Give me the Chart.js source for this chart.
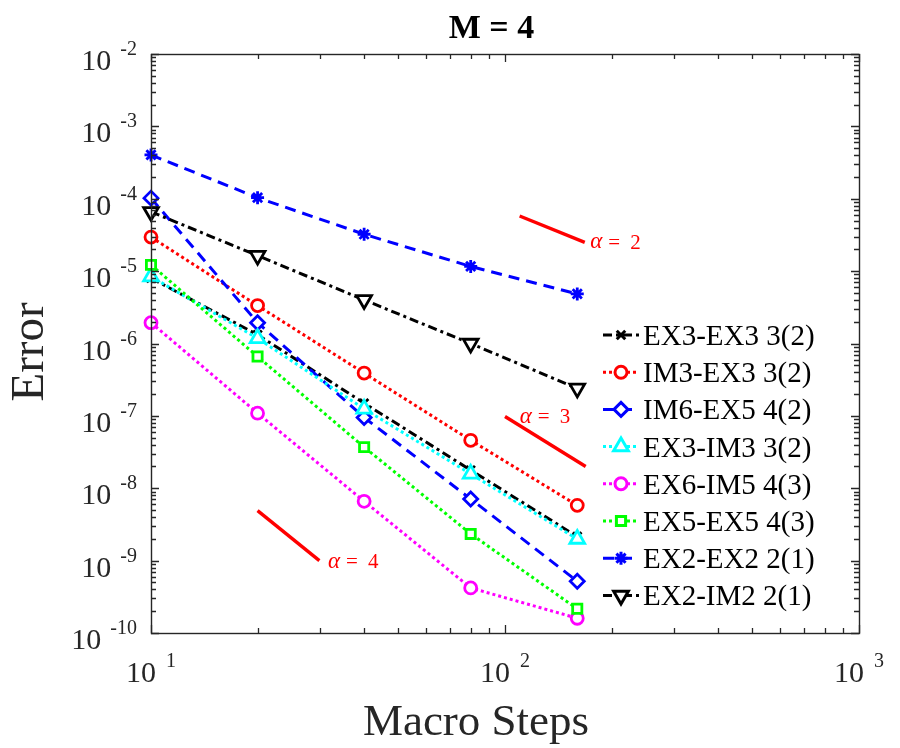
<!DOCTYPE html>
<html>
<head>
<meta charset="utf-8">
<script src="https://cdn.jsdelivr.net/npm/chart.js@4.4.1/dist/chart.umd.min.js"></script>
<style>
html,body{margin:0;padding:0;background:#fff;}
canvas{display:block;}
</style>
</head>
<body>
<canvas id="c" width="900" height="748"></canvas>
<script>
// ---- data ----
const steps = [10, 20, 40, 80, 160];
const ex3ex3 = [8.0e-6, 1.32e-6, 1.5e-7, 1.78e-8, 2.15e-9];
const im3ex3 = [2.95e-5, 3.34e-6, 3.9e-7, 4.6e-8, 5.8e-9];
const im6ex5 = [1.02e-4, 1.94e-6, 9.5e-8, 7.1e-9, 5.2e-10];
const ex3im3 = [8.4e-6, 1.18e-6, 1.25e-7, 1.58e-8, 1.99e-9];
const ex6im5 = [1.94e-6, 1.09e-7, 6.6e-9, 4.2e-10, 1.6e-10];
const ex5ex5 = [1.22e-5, 6.6e-7, 3.7e-8, 2.34e-9, 2.16e-10];
const ex2ex2 = [4.03e-4, 1.035e-4, 3.23e-5, 1.16e-5, 4.84e-6];
const ex2im2 = [6.6e-5, 1.64e-5, 4.0e-6, 1.0e-6, 2.4e-7];

const seriesLabels = ['EX3-EX3 3(2)', 'IM3-EX3 3(2)', 'IM6-EX5 4(2)', 'EX3-IM3 3(2)',
                      'EX6-IM5 4(3)', 'EX5-EX5 4(3)', 'EX2-EX2 2(1)', 'EX2-IM2 2(1)'];

// reference slope segments
const slope2X = [110, 168];  const slope2Y = [5.78e-5, 2.5e-5];
const slope3X = [100, 169];  const slope3Y = [9.8e-8, 2.0e-8];
const slope4X = [20, 29.9];  const slope4Y = [4.9e-9, 1.0e-9];
const slopeLabels = ['2', '3', '4'];
const slopeLabelX = [174, 110, 31.6];
const slopeLabelY = [2.5e-5, 9.8e-8, 9.7e-10];

// tick labels
const xTickValues = [10, 100, 1000];
const xTickExps = ['1', '2', '3'];
const yTickValues = [1e-2, 1e-3, 1e-4, 1e-5, 1e-6, 1e-7, 1e-8, 1e-9, 1e-10];
const yTickExps = ['-2', '-3', '-4', '-5', '-6', '-7', '-8', '-9', '-10'];

const titleText = 'M = 4';
const xTitle = 'Macro Steps';
const yTitle = 'Error';

// ---- styles ----
const SERIF = "'Liberation Serif','Times New Roman',serif";
const AX = '#262626';
const DASH = [11, 7];
const DOT = [3, 3];
const DASHDOT = [9, 4, 3, 4];
const LW = 3;
const MW = 2.8;

function pts(xs, ys) { return xs.map((x, i) => ({x: x, y: ys[i]})); }

const styles = [
  {c: '#000000', dash: DASHDOT, ps: 'crossRot', r: 6, rot: 0},
  {c: '#ff0000', dash: DOT, ps: 'circle', r: 6, rot: 0},
  {c: '#0000ff', dash: DASH, ps: 'rectRot', r: 7, rot: 0},
  {c: '#00ffff', dash: DOT, ps: 'triangle', r: 8.5, rot: 0},
  {c: '#ff00ff', dash: DOT, ps: 'circle', r: 6, rot: 0},
  {c: '#00ff00', dash: DOT, ps: 'rect', r: 6.5, rot: 0},
  {c: '#0000ff', dash: DASH, ps: 'star', r: 6.5, rot: 0},
  {c: '#000000', dash: DASHDOT, ps: 'triangle', r: 8.5, rot: 180}
];
const seriesData = [ex3ex3, im3ex3, im6ex5, ex3im3, ex6im5, ex5ex5, ex2ex2, ex2im2];

const datasets = seriesData.map((arr, i) => ({
  label: seriesLabels[i],
  data: pts(steps, arr),
  borderColor: styles[i].c,
  backgroundColor: '#ffffff',
  borderWidth: LW,
  borderDash: styles[i].dash,
  pointStyle: styles[i].ps,
  pointRadius: styles[i].r,
  pointRotation: styles[i].rot,
  pointBorderColor: styles[i].c,
  pointBackgroundColor: '#ffffff',
  pointBorderWidth: MW,
  fill: false,
  tension: 0,
  clip: false,
  order: 20 - i
}));
[[slope2X, slope2Y], [slope3X, slope3Y], [slope4X, slope4Y]].forEach((s, k) => {
  datasets.push({
    label: 'slope' + slopeLabels[k],
    data: pts(s[0], s[1]),
    borderColor: '#ff0000',
    borderWidth: 3.4,
    pointRadius: 0,
    fill: false,
    clip: false,
    order: 30
  });
});

const decorPlugin = {
  id: 'decor',
  afterDraw(chart) {
    const ctx = chart.ctx;
    const a = chart.chartArea;
    const xs = chart.scales.x, ys = chart.scales.y;
    ctx.save();
    // box
    ctx.strokeStyle = AX;
    ctx.lineWidth = 1.4;
    ctx.setLineDash([]);
    ctx.strokeRect(Math.round(a.left) + 0.5, Math.round(a.top) + 0.5,
                   Math.round(a.right - a.left), Math.round(a.bottom - a.top));
    // ticks
    ctx.lineWidth = 1.3;
    ctx.beginPath();
    for (let d = 10; d <= 1000; d *= 10) {
      for (let m = 1; m <= 9; m++) {
        const v = d * m;
        if (v > 1000) break;
        const px = Math.round(xs.getPixelForValue(v)) + 0.5;
        const L = m === 1 ? 8 : 5;
        ctx.moveTo(px, a.bottom); ctx.lineTo(px, a.bottom - L);
        ctx.moveTo(px, a.top); ctx.lineTo(px, a.top + L);
      }
    }
    for (let e = -10; e <= -2; e++) {
      for (let m = 1; m <= 9; m++) {
        const v = m * Math.pow(10, e);
        if (v > 1.0001e-2) break;
        const py = Math.round(ys.getPixelForValue(v)) + 0.5;
        const L = m === 1 ? 8 : 5;
        ctx.moveTo(a.left, py); ctx.lineTo(a.left + L, py);
        ctx.moveTo(a.right, py); ctx.lineTo(a.right - L, py);
      }
    }
    ctx.stroke();

    // y tick labels
    ctx.fillStyle = AX;
    ctx.textBaseline = 'alphabetic';
    yTickValues.forEach((v, i) => {
      const py = ys.getPixelForValue(v);
      ctx.font = '20px ' + SERIF;
      ctx.textAlign = 'right';
      const sw = ctx.measureText(yTickExps[i]).width;
      ctx.fillText(yTickExps[i], 137, py + 1);
      ctx.font = '30px ' + SERIF;
      ctx.fillText('10', 137 - sw - 9, py + 16);
    });
    // x tick labels
    xTickValues.forEach((v, i) => {
      const px = xs.getPixelForValue(v);
      ctx.font = '30px ' + SERIF;
      const w1 = ctx.measureText('10').width;
      ctx.font = '20px ' + SERIF;
      const w2 = ctx.measureText(xTickExps[i]).width;
      const tot = w1 + 10 + w2;
      const x0 = px - tot / 2;
      ctx.textAlign = 'left';
      ctx.font = '30px ' + SERIF;
      ctx.fillText('10', x0, 682);
      ctx.font = '20px ' + SERIF;
      ctx.fillText(xTickExps[i], x0 + w1 + 10, 667);
    });

    // titles
    ctx.fillStyle = '#000';
    ctx.textAlign = 'center';
    ctx.font = 'bold 34px ' + SERIF;
    ctx.fillText(titleText, 491.5, 38);
    ctx.fillStyle = AX;
    ctx.font = '45px ' + SERIF;
    ctx.fillText(xTitle, 476, 735);
    ctx.save();
    ctx.translate(43, 352);
    ctx.rotate(-Math.PI / 2);
    ctx.font = '47px ' + SERIF;
    ctx.fillText(yTitle, 0, 0);
    ctx.restore();

    // slope labels
    ctx.fillStyle = '#ff0000';
    ctx.textAlign = 'left';
    ctx.textBaseline = 'middle';
    slopeLabels.forEach((s, i) => {
      const px = xs.getPixelForValue(slopeLabelX[i]);
      const py = ys.getPixelForValue(slopeLabelY[i]);
      ctx.font = 'italic 23px ' + SERIF;
      ctx.fillText('\u03B1', px, py);
      ctx.font = '21px ' + SERIF;
      ctx.fillText('=', px + 18, py + 1);
      ctx.fillText(s, px + 40, py + 1);
    });

    // legend
    ctx.fillStyle = '#ffffff';
    ctx.fillRect(597, 316, 230, 300);
    const rowY0 = 335, rowDy = 37.2;
    for (let i = 0; i < seriesLabels.length; i++) {
      const y = rowY0 + rowDy * i;
      const st = styles[i];
      ctx.strokeStyle = st.c;
      ctx.lineWidth = LW;
      ctx.setLineDash(st.dash);
      ctx.beginPath();
      ctx.moveTo(603, y); ctx.lineTo(639, y);
      ctx.stroke();
      ctx.setLineDash([]);
      ctx.fillStyle = '#ffffff';
      ctx.strokeStyle = st.c;
      Chart.helpers.drawPoint(ctx, {pointStyle: st.ps, radius: st.r, rotation: st.rot, borderWidth: MW}, 621, y);
      ctx.fillStyle = '#000';
      ctx.font = '29px ' + SERIF;
      ctx.textBaseline = 'alphabetic';
      ctx.textAlign = 'left';
      ctx.fillText(seriesLabels[i], 643, y + 10);
    }
    ctx.restore();
  }
};

new Chart(document.getElementById('c'), {
  type: 'line',
  data: {datasets: datasets},
  options: {
    responsive: false,
    animation: false,
    devicePixelRatio: 1,
    layout: {padding: {left: 151, right: 41, top: 54, bottom: 115}},
    plugins: {legend: {display: false}, tooltip: {enabled: false}, title: {display: false}},
    scales: {
      x: {type: 'logarithmic', min: 10, max: 1000, display: false},
      y: {type: 'logarithmic', min: 1e-10, max: 1e-2, display: false}
    }
  },
  plugins: [decorPlugin]
});
</script>
</body>
</html>
